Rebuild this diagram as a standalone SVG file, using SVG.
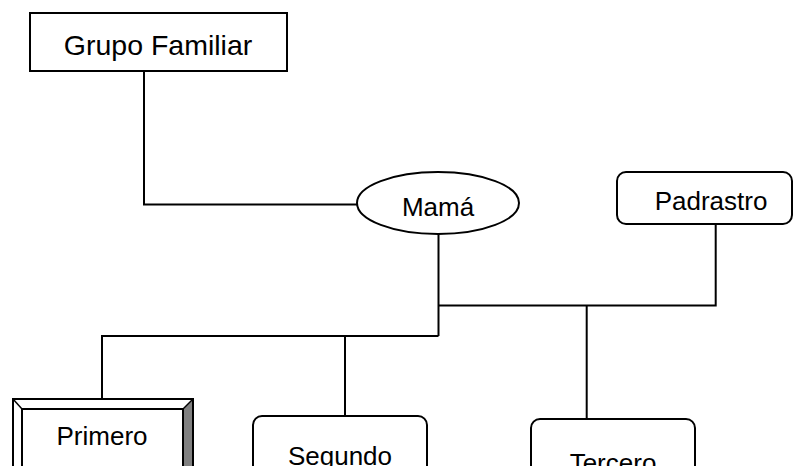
<svg xmlns="http://www.w3.org/2000/svg" width="793" height="466" viewBox="0 0 793 466">
<style>
.box{fill:#fff;stroke:#000;stroke-width:2}
.lbl{font-family:"Liberation Sans",Arial,sans-serif;font-size:26px;fill:#000;text-anchor:middle}
.wire{fill:none;stroke:#000;stroke-width:2}
</style>
<rect width="793" height="466" fill="#fff"/>
<g id="connectors">
<polyline class="wire" points="144,71 144,204.5 357,204.5"/>
<polyline class="wire" points="438.5,234 438.5,336"/>
<polyline class="wire" points="102,400 102,336 438.5,336"/>
<polyline class="wire" points="345,416 345,336"/>
<polyline class="wire" points="438.5,305.5 715.7,305.5 715.7,224"/>
<polyline class="wire" points="586.7,305.5 586.7,419"/>
</g>
<g id="grupo">
<rect class="box" x="30" y="13" width="257" height="58"/>
<text class="lbl" x="158" y="55" style="font-size:28.5px">Grupo Familiar</text>
</g>
<g id="mama">
<ellipse class="box" cx="438" cy="203" rx="81" ry="31"/>
<text class="lbl" x="438" y="216">Mamá</text>
</g>
<g id="padrastro">
<rect class="box" x="617" y="172" width="175" height="52" rx="9"/>
<text class="lbl" x="711" y="210">Padrastro</text>
</g>
<g id="primero">
<rect x="13" y="399" width="180" height="80" fill="#fff" stroke="#000" stroke-width="2"/>
<polygon points="183,409 193,399 193,479 183,469" fill="#808080"/>
<polygon points="22,469 183,469 193,479 13,479" fill="#c0c0c0"/>
<rect x="13" y="399" width="180" height="80" fill="none" stroke="#000" stroke-width="2"/>
<rect x="22" y="409" width="161" height="60" fill="#fff" stroke="#000" stroke-width="2"/>
<line x1="13" y1="399" x2="22" y2="409" stroke="#000" stroke-width="1.5"/>
<line x1="193" y1="399" x2="183" y2="409" stroke="#000" stroke-width="1.5"/>
<line x1="13" y1="479" x2="22" y2="469" stroke="#000" stroke-width="1.5"/>
<line x1="193" y1="479" x2="183" y2="469" stroke="#000" stroke-width="1.5"/>
<text class="lbl" x="102" y="445">Primero</text>
</g>
<g id="segundo">
<rect class="box" x="253" y="416" width="174" height="70" rx="9"/>
<text class="lbl" x="340" y="465">Segundo</text>
</g>
<g id="tercero">
<rect class="box" x="531" y="419" width="164" height="70" rx="9"/>
<text class="lbl" x="613" y="472">Tercero</text>
</g>
</svg>
